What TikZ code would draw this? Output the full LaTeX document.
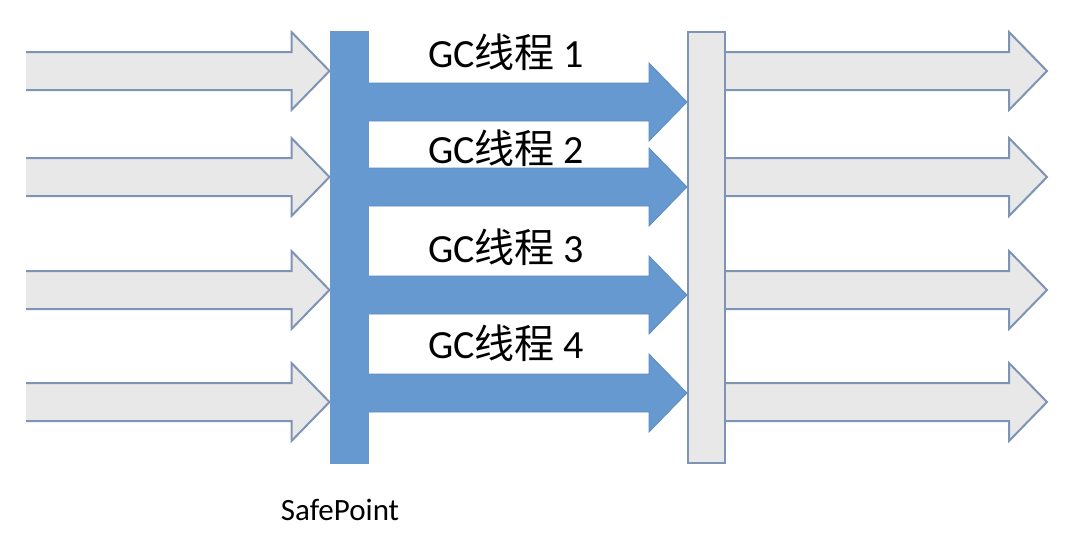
\documentclass[tikz,border=0pt]{standalone}
\usepackage{fontspec}
\setmainfont{Carlito}
\newfontfamily\cjk{Noto Sans CJK SC}
\usepackage{tikz}
\usetikzlibrary{calc,backgrounds}
\definecolor{sblue}{HTML}{6699D0}
\definecolor{sblueline}{HTML}{5D8CC4}
\definecolor{sgray}{HTML}{E8E8E8}
\definecolor{sgrayline}{HTML}{7D94B4}

\tikzset{
  grayarrow/.style={fill=sgray,draw=sgrayline,line width=2pt,line join=miter},
  bluearrow/.style={fill=sblue,draw=sblueline,line width=0.8pt},
  bar/.style={draw=sgrayline,line width=2pt,minimum width=37pt,
              minimum height=431pt,inner sep=0pt},
  threadlabel/.style={font=\fontsize{40}{42}\selectfont,inner sep=0pt},
}

% block arrow from #2 (tail) to #3 (tip), tail end left open
\newcommand{\fatarrow}[3]{%
  \draw[#1] let \p1=(#2), \p2=(#3) in
    (\x1,\y1+19pt) -- (\x2-38pt,\y1+19pt) -- (\x2-38pt,\y1+39pt) -- (\x2,\y1)
    -- (\x2-38pt,\y1-39pt) -- (\x2-38pt,\y1-19pt) -- (\x1,\y1-19pt);}

\begin{document}
\begin{tikzpicture}[x=1pt,y=-1pt]
  \useasboundingbox (0,0) rectangle (1066,536);

  % safepoint bar and end bar
  \node[bar,fill=sblue,draw=sblue] (safe) at (349,247) {};
  \node[bar,fill=sgray] (done) at (706.5,247.5) {};

  \begin{scope}[on background layer]
    % user threads running in
    \foreach \i/\y in {1/71,2/177,3/290,4/402}{
      \coordinate (in\i) at (26,\y);
      \fatarrow{grayarrow}{in\i}{in\i -| safe.west}
    }
    % gc threads
    \foreach \i/\y in {1/102,2/187,3/295,4/393}{
      \coordinate (gs\i) at (safe.east |- 0,\y);
      \fatarrow{bluearrow}{gs\i}{gs\i -| done.west}
    }
    % user threads going on
    \foreach \i/\y in {1/71,2/177,3/290,4/402}{
      \coordinate (out\i) at (1047,\y);
      \fatarrow{grayarrow}{out\i -| done.east}{out\i}
    }
  \end{scope}

  % labels
  \foreach \i/\y in {1/52,2/148,3/247,4/343}
    \node[threadlabel] (gc\i) at (506,\y) {GC{\cjk 线程} \i};

  \node[font=\fontsize{31}{33}\selectfont] (sp) at (340,510) {SafePoint};

\end{tikzpicture}
\end{document}
